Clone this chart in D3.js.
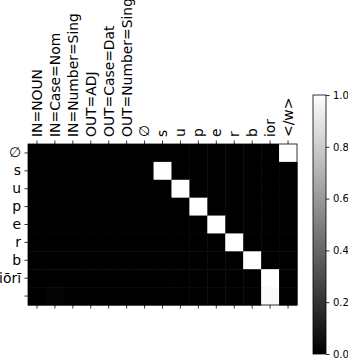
<!DOCTYPE html>
<html>
<head>
<meta charset="utf-8">
<script src="https://cdn.jsdelivr.net/npm/d3@7"></script>
<style>
  body { margin: 0; background: #fff; }
  text { font-family: "DejaVu Sans", sans-serif; fill: #000; }
</style>
</head>
<body>
<div id="chart"></div>
<script>
// Column labels (top axis) and row labels (left axis)
const xLabels = ["IN=NOUN", "IN=Case=Nom", "IN=Number=Sing", "OUT=ADJ", "OUT=Case=Dat",
  "OUT=Number=Sing", "∅", "s", "u", "p", "e", "r", "b", "ior", "</w>"];
const yLabels = ["∅", "s", "u", "p", "e", "r", "b", "iōrī", ""];

// Attention weights, one row per output symbol
const weights = [
  [0, 0, 0, 0, 0, 0, 0, 0, 0, 0, 0, 0, 0, 0, 1],
  [0, 0, 0, 0, 0, 0, 0, 1, 0, 0, 0, 0, 0, 0, 0],
  [0, 0, 0, 0, 0, 0, 0, 0, 1, 0, 0, 0, 0, 0, 0],
  [0, 0, 0, 0, 0, 0, 0, 0, 0, 1, 0, 0, 0, 0, 0],
  [0, 0, 0, 0, 0, 0, 0, 0, 0, 0, 1, 0, 0, 0, 0],
  [0, 0, 0, 0, 0, 0, 0, 0, 0, 0, 0, 1, 0, 0, 0],
  [0, 0, 0, 0, 0, 0, 0, 0, 0, 0, 0, 0, 1, 0, 0],
  [0, 0, 0, 0, 0, 0, 0, 0, 0, 0, 0, 0, 0, 1, 0],
  [0, 0.015, 0, 0, 0, 0, 0, 0, 0, 0, 0, 0, 0, 0.98, 0]
];
const colorTicks = [0, 0.2, 0.4, 0.6, 0.8, 1.0];

const width = 348;
const height = 358;
const plot = { left: 28, right: 297, top: 144, bottom: 305 };
const bar = { left: 313, right: 326, top: 95, bottom: 354 };

const svg = d3.select("#chart")
    .append("svg")
    .attr("width", width)
    .attr("height", height);

const x = d3.scaleBand()
    .domain(d3.range(xLabels.length))
    .range([plot.left, plot.right]);

const y = d3.scaleBand()
    .domain(d3.range(yLabels.length))
    .range([plot.top, plot.bottom]);

const color = d3.scaleLinear().domain([0, 1]).range(["#000", "#fff"]);

// Cells
const cells = weights.flatMap((row, r) => row.map((v, c) => ({ r, c, v })));
svg.append("g")
    .selectAll("rect")
    .data(cells)
    .enter()
    .append("rect")
    .attr("x", d => x(d.c))
    .attr("y", d => y(d.r))
    .attr("width", x.bandwidth() + 0.5)
    .attr("height", y.bandwidth() + 0.5)
    .attr("fill", d => color(d.v));

// Axes
const styleAxis = g => {
    g.select(".domain").remove();
    g.selectAll(".tick line").attr("stroke", "#000").attr("stroke-width", 0.8);
    g.selectAll(".tick text").style("font-size", "13.9px").attr("fill", "#000");
};

svg.append("g")
    .attr("transform", `translate(0, ${plot.top})`)
    .call(d3.axisTop(x).tickSize(3.5).tickPadding(3.5).tickFormat(i => xLabels[i]))
    .call(styleAxis)
    .call(g => g.selectAll(".tick text")
        .attr("transform", "rotate(-90)")
        .attr("x", 7)
        .attr("y", 0)
        .attr("dy", "0.35em")
        .attr("text-anchor", "start"));

svg.append("g")
    .attr("transform", `translate(0, ${plot.bottom})`)
    .call(d3.axisBottom(x).tickSize(3.5).tickFormat(""))
    .call(styleAxis);

svg.append("g")
    .attr("transform", `translate(${plot.left}, 0)`)
    .call(d3.axisLeft(y).tickSize(3.5).tickPadding(3.5).tickFormat(i => yLabels[i]))
    .call(styleAxis);

// Frame
svg.append("rect")
    .attr("x", plot.left)
    .attr("y", plot.top)
    .attr("width", plot.right - plot.left)
    .attr("height", plot.bottom - plot.top)
    .attr("fill", "none")
    .attr("stroke", "#000")
    .attr("stroke-width", 0.8);

// Colorbar
const grad = svg.append("defs").append("linearGradient")
    .attr("id", "cbar")
    .attr("x1", 0).attr("y1", 1).attr("x2", 0).attr("y2", 0);
grad.append("stop").attr("offset", "0%").attr("stop-color", color(0));
grad.append("stop").attr("offset", "100%").attr("stop-color", color(1));

const cy = d3.scaleLinear().domain([0, 1]).range([bar.bottom, bar.top]);

svg.append("rect")
    .attr("x", bar.left)
    .attr("y", bar.top)
    .attr("width", bar.right - bar.left)
    .attr("height", bar.bottom - bar.top)
    .attr("fill", "url(#cbar)")
    .attr("stroke", "#000")
    .attr("stroke-width", 0.8);

svg.append("g")
    .attr("transform", `translate(${bar.right}, 0)`)
    .call(d3.axisRight(cy).tickValues(colorTicks).tickSize(3.5).tickPadding(3.5).tickFormat(d3.format(".1f")))
    .call(g => g.select(".domain").remove())
    .call(g => g.selectAll(".tick line").attr("stroke", "#000").attr("stroke-width", 0.8))
    .call(g => g.selectAll(".tick text").style("font-size", "10px").attr("fill", "#000"));
</script>
</body>
</html>
